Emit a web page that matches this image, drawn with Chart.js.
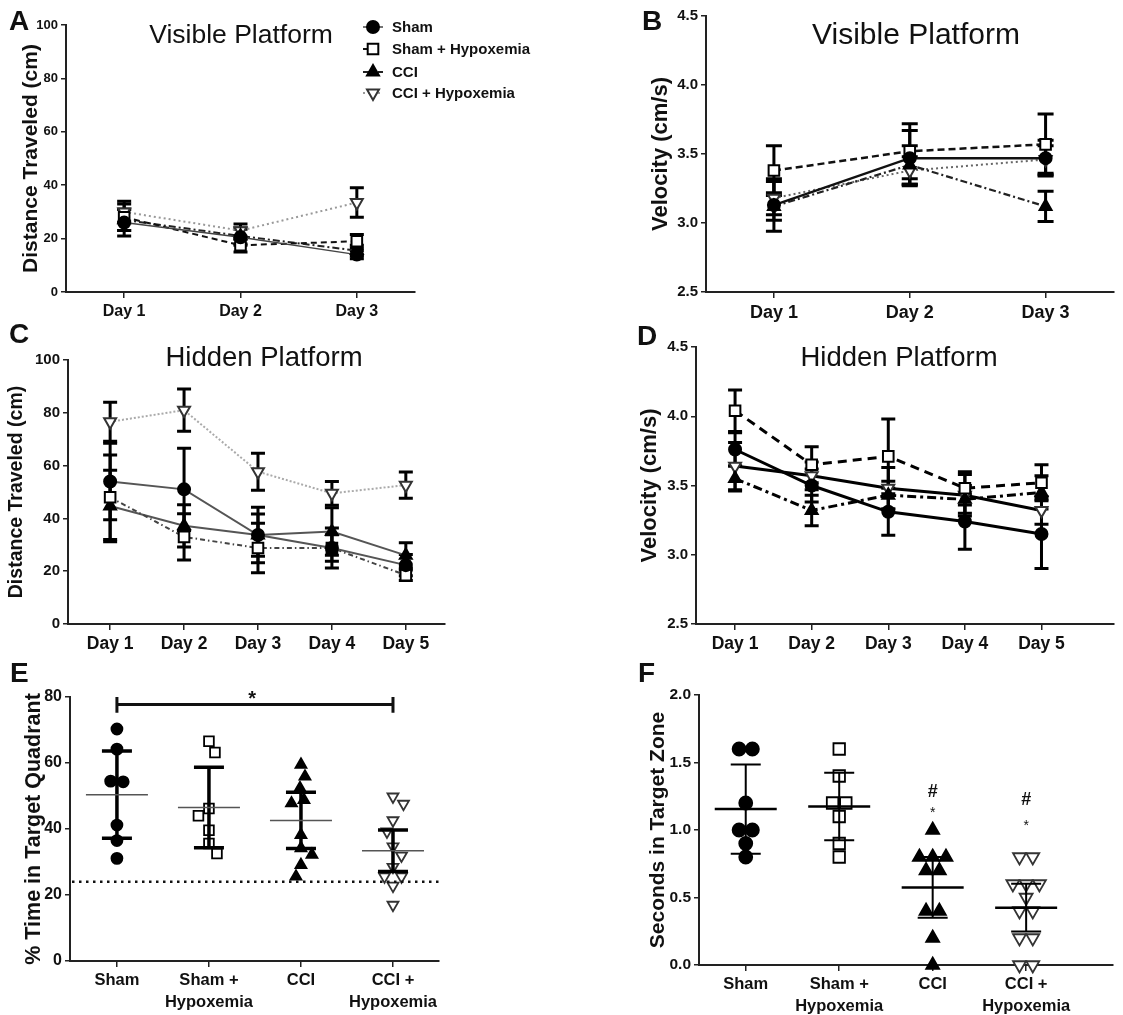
<!DOCTYPE html>
<html>
<head>
<meta charset="utf-8">
<script src="https://cdn.jsdelivr.net/npm/chart.js@4.4.0/dist/chart.umd.min.js"></script>
<style>
body { margin: 0; background: #fff; width: 1123px; height: 1015px; position: relative; overflow: hidden; font-family: "Liberation Sans", Arial, sans-serif; }
canvas { position: absolute; }
.tag { position: absolute; z-index: 2; font-weight: bold; font-size: 28px; line-height: 1; color: #111; }
</style>
</head>
<body>
<canvas id="pA"></canvas>
<canvas id="pB"></canvas>
<canvas id="pC"></canvas>
<canvas id="pD"></canvas>
<canvas id="pE"></canvas>
<canvas id="pF"></canvas>
<div class="tag" style="left:9px;top:7px">A</div>
<div class="tag" style="left:642px;top:7px">B</div>
<div class="tag" style="left:9px;top:320px">C</div>
<div class="tag" style="left:637px;top:322px">D</div>
<div class="tag" style="left:10px;top:659px">E</div>
<div class="tag" style="left:638px;top:659px">F</div>
<script>
const FONT = '"Liberation Sans", Arial, sans-serif';

const visibleDays = ['Day 1', 'Day 2', 'Day 3'];
const hiddenDays = ['Day 1', 'Day 2', 'Day 3', 'Day 4', 'Day 5'];
const groups = ['Sham', 'Sham + Hypoxemia', 'CCI', 'CCI + Hypoxemia'];
const groupTicks = [['Sham'], ['Sham +', 'Hypoxemia'], ['CCI'], ['CCI +', 'Hypoxemia']];

const distTicks = [0, 20, 40, 60, 80, 100];
const velTicks = [2.5, 3.0, 3.5, 4.0, 4.5];
const quadrantTicks = [0, 20, 40, 60, 80];
const zoneTicks = [0, 0.5, 1.0, 1.5, 2.0];

// rows follow the order of groups: Sham, Sham + Hypoxemia, CCI, CCI + Hypoxemia
// A - visible platform, distance (cm), mean and error
const visDist = [[26, 20.5, 14], [28, 17.5, 19], [27, 21, 15.5], [30, 23, 33.5]];
const visDistErr = [[5, 3, 1.5], [5, 2.5, 2.5], [4, 3, 2], [4, 2.5, 5.5]];

// B - visible platform, velocity (cm/s)
const visVel = [[3.13, 3.47, 3.47], [3.38, 3.52, 3.57], [3.12, 3.42, 3.12], [3.18, 3.38, 3.46]];
const visVelErr = [[0.19, 0.2, 0.13], [0.18, 0.2, 0.22], [0.1, 0.14, 0.11], [0.12, 0.1, 0.1]];

// C - hidden platform, distance (cm)
const hidDist = [[54, 51, 33.7, 28.8, 22.3], [48, 33, 28.8, 28.8, 18.5], [44.7, 37.2, 33.7, 35, 26], [76.6, 81, 57.7, 49.5, 52.6]];
const hidDistErr = [[14.5, 15.6, 8, 5, 4], [16, 8.8, 9.4, 7.6, 2], [13.5, 8, 10.5, 9, 4.8], [7.4, 8, 7, 4.5, 5]];

// D - hidden platform, velocity (cm/s)
const hidVel = [[3.76, 3.50, 3.31, 3.24, 3.15], [4.04, 3.65, 3.71, 3.48, 3.52], [3.55, 3.32, 3.43, 3.40, 3.45], [3.64, 3.57, 3.48, 3.43, 3.32]];
const hidVelErr = [[0.12, 0.12, 0.17, 0.2, 0.25], [0.15, 0.13, 0.27, 0.12, 0.13], [0.09, 0.11, 0.1, 0.1, 0.12], [0.17, 0.1, 0.15, 0.15, 0.1]];

// E - probe trial, % time in target quadrant (individual animals)
const quadrant = [
    [70.3, 64.2, 54.5, 54.3, 41.2, 36.5, 31.1],
    [66.6, 63.2, 46.2, 44, 39.6, 35.6, 32.6],
    [59.5, 55.9, 52.4, 48.8, 47.8, 38.2, 34.2, 32.2, 29.1, 25.6],
    [49.8, 47.6, 42.6, 39.2, 34.7, 31.9, 28.5, 25.6, 25.6, 22.8, 17]
];
const quadrantMean = [50.4, 46.5, 42.6, 33.4];
const quadrantSd = [13.2, 12.2, 8.5, 6.3];
const quadrantChance = 24;

// F - probe trial, seconds in target zone (individual animals)
const zone = [
    [1.6, 1.6, 1.2, 1.0, 1.0, 0.9, 0.8],
    [1.6, 1.4, 1.2, 1.2, 1.1, 0.9, 0.8],
    [1.0, 0.8, 0.8, 0.8, 0.7, 0.7, 0.4, 0.4, 0.2, 0.0],
    [0.8, 0.8, 0.6, 0.6, 0.6, 0.5, 0.4, 0.4, 0.2, 0.2, 0.0, 0.0]
];
const zoneMean = [1.155, 1.175, 0.575, 0.425];
const zoneSd = [0.33, 0.25, 0.225, 0.177];
const zoneHashAt = [null, null, 1.28, 1.22];
const zoneStarAt = [null, null, 1.15, 1.05];

const markers = [
    { style: 'circle', bg: '#000', border: '#000', k: 1 },
    { style: 'rect', bg: '#fff', border: '#000', k: 1.25 },
    { style: 'triangle', bg: '#000', border: '#000', k: 1.15 },
    { style: 'triangle', rot: 180, bg: '#fff', border: '#333', k: 1.15 }
];

const lookA = [
    { c: '#444', w: 1.5, d: [] }, { c: '#111', w: 2, d: [6, 4] },
    { c: '#222', w: 2, d: [7, 3, 2, 3] }, { c: '#999', w: 2, d: [2, 3] }
];
const lookB = [
    { c: '#111', w: 2.5, d: [] }, { c: '#111', w: 2.5, d: [7, 4] },
    { c: '#222', w: 2.2, d: [7, 3, 2, 3] }, { c: '#666', w: 2, d: [2, 3] }
];
const lookC = [
    { c: '#555', w: 2, d: [] }, { c: '#444', w: 2, d: [5, 3, 1.5, 3] },
    { c: '#555', w: 2, d: [] }, { c: '#aaa', w: 2, d: [2, 2] }
];
const lookD = [
    { c: '#000', w: 3, d: [] }, { c: '#000', w: 3, d: [9, 6] },
    { c: '#000', w: 3, d: [9, 4, 3, 4] }, { c: '#000', w: 3, d: [] }
];

function drawMarker(ctx, g, x, y, r) {
    const m = markers[g];
    const rr = r * m.k;
    ctx.save();
    ctx.fillStyle = m.bg;
    ctx.strokeStyle = m.border;
    ctx.lineWidth = 2;
    ctx.setLineDash([]);
    ctx.beginPath();
    if (m.style === 'circle') {
        ctx.arc(x, y, rr, 0, Math.PI * 2);
    } else if (m.style === 'rect') {
        const s = rr * Math.SQRT1_2;
        ctx.rect(x - s, y - s, 2 * s, 2 * s);
    } else {
        const d = m.rot ? -1 : 1;
        ctx.moveTo(x, y - d * rr);
        ctx.lineTo(x + rr * 0.866, y + d * rr * 0.5);
        ctx.lineTo(x - rr * 0.866, y + d * rr * 0.5);
        ctx.closePath();
    }
    ctx.fill();
    ctx.stroke();
    ctx.restore();
}

// beeswarm: push each dot sideways just enough so it does not sit on a dot already placed
function swarm(values, p) {
    const ky = (p.area[3] - p.area[1]) / (p.yTicks[p.yTicks.length - 1] - p.yTicks[0]);
    const kx = (p.area[2] - p.area[0]) / (p.xRange[1] - p.xRange[0]);
    const d2 = p.dotGap * p.dotGap;
    const order = values.map((v, i) => i).sort((a, b) => values[b] - values[a]);
    const dx = values.map(() => 0);
    const placed = [];
    let flip = 1;
    order.forEach(idx => {
        const yy = values[idx] * ky;
        const fits = x => placed.every(j => (dx[j] - x) ** 2 + (values[j] * ky - yy) ** 2 >= d2);
        let best = 0;
        if (!fits(0)) {
            let r = 0.5;
            while (!fits(flip * r) && !fits(-flip * r)) r += 0.5;
            best = fits(flip * r) ? flip * r : -flip * r;
            flip = -flip;
        }
        dx[idx] = best;
        placed.push(idx);
    });
    // centre runs of equal values around the group axis
    const done = new Set();
    order.forEach(idx => {
        if (done.has(idx)) return;
        const run = order.filter(j => Math.abs(values[j] - values[idx]) * ky < 1.5);
        run.forEach(j => done.add(j));
        if (run.length < 2) return;
        const mean = run.reduce((s, j) => s + dx[j], 0) / run.length;
        const others = order.filter(j => !run.includes(j));
        const ok = run.every(j => others.every(o =>
            (dx[o] - (dx[j] - mean)) ** 2 + ((values[o] - values[j]) * ky) ** 2 >= d2));
        if (ok) run.forEach(j => { dx[j] -= mean; });
    });
    return dx.map(v => v / kx);
}

function drawErrorBars(chart, p) {
    const { ctx, scales: { x, y } } = chart;
    ctx.save();
    ctx.strokeStyle = '#000';
    ctx.lineWidth = 3;
    chart.data.datasets.forEach(ds => {
        ds.data.forEach((pt, i) => {
            const e = ds.errors[i];
            const px = x.getPixelForValue(pt.x);
            const top = y.getPixelForValue(pt.y + e);
            const bot = y.getPixelForValue(pt.y - e);
            ctx.beginPath();
            ctx.moveTo(px, top); ctx.lineTo(px, bot);
            ctx.moveTo(px - p.cap, top); ctx.lineTo(px + p.cap, top);
            ctx.moveTo(px - p.cap, bot); ctx.lineTo(px + p.cap, bot);
            ctx.stroke();
        });
    });
    ctx.restore();
}

function drawMeanSd(chart, p) {
    const { ctx, scales: { x, y } } = chart;
    ctx.save();
    p.means.forEach((m, g) => {
        const px = x.getPixelForValue(g + 1);
        const my = y.getPixelForValue(m);
        const top = y.getPixelForValue(m + p.sds[g]);
        const bot = y.getPixelForValue(m - p.sds[g]);
        ctx.strokeStyle = '#000';
        ctx.lineWidth = p.sdWidth;
        ctx.beginPath();
        ctx.moveTo(px, top); ctx.lineTo(px, bot);
        ctx.moveTo(px - p.sdCap, top); ctx.lineTo(px + p.sdCap, top);
        ctx.moveTo(px - p.sdCap, bot); ctx.lineTo(px + p.sdCap, bot);
        ctx.stroke();
        ctx.strokeStyle = p.meanColor;
        ctx.lineWidth = p.meanWidth;
        ctx.beginPath();
        ctx.moveTo(px - p.meanHalf, my); ctx.lineTo(px + p.meanHalf, my);
        ctx.stroke();
    });
    ctx.restore();
}

function drawLegend(chart, p) {
    const ctx = chart.ctx;
    const rows = [27, 49, 72, 93];
    ctx.save();
    groups.forEach((name, g) => {
        const y = rows[g] - p.box[1];
        const x = 373 - p.box[0];
        ctx.strokeStyle = p.look[g].c;
        ctx.lineWidth = p.look[g].w;
        ctx.setLineDash(p.look[g].d);
        ctx.beginPath();
        ctx.moveTo(x - 10, y); ctx.lineTo(x + 10, y);
        ctx.stroke();
        drawMarker(ctx, g, x, y, 6);
        ctx.fillStyle = '#111';
        ctx.font = 'bold 15px ' + FONT;
        ctx.textAlign = 'left';
        ctx.textBaseline = 'middle';
        ctx.fillText(name, 392 - p.box[0], y + 1);
    });
    ctx.restore();
}

function decor(p) {
    return {
        id: 'decor',
        beforeDatasetsDraw(chart) {
            if (p.errs) drawErrorBars(chart, p);
        },
        afterDatasetsDraw(chart) {
            if (p.means) drawMeanSd(chart, p);
            if (p.extra) p.extra(chart, p);
        },
        afterDraw(chart) {
            const ctx = chart.ctx;
            if (p.title) {
                ctx.save();
                ctx.fillStyle = '#111';
                ctx.font = p.titleSize + 'px ' + FONT;
                ctx.textAlign = 'center';
                ctx.textBaseline = 'middle';
                ctx.fillText(p.title, p.titleAt[0] - p.box[0], p.titleAt[1] - p.box[1]);
                ctx.restore();
            }
            if (p.legend) drawLegend(chart, p);
        }
    };
}

function makeOptions(p) {
    const lh = p.yTitleSize * 1.2;
    const padLeft = p.yTitleX - lh / 2 - p.box[0];
    const [bx, by, bw, bh] = p.box;
    const [l, t, r, b] = p.area;
    return {
        responsive: false,
        animation: false,
        events: [],
        layout: { padding: { left: padLeft, top: t - by, right: bx + bw - r, bottom: 0 } },
        plugins: { legend: { display: false }, tooltip: { enabled: false } },
        scales: {
            x: {
                type: 'linear',
                min: p.xRange[0],
                max: p.xRange[1],
                afterBuildTicks: ax => { ax.ticks = p.cats.map((c, i) => ({ value: i + 1 })); },
                afterFit: ax => { ax.height = by + bh - b; },
                ticks: {
                    autoSkip: false,
                    maxRotation: 0,
                    padding: 3,
                    color: '#111',
                    font: { family: FONT, size: p.xFont, weight: 'bold', lineHeight: 1.3 },
                    callback: v => p.cats[Math.round(v) - 1]
                },
                grid: { display: true, drawOnChartArea: false, drawTicks: true, tickLength: 6, color: '#222', lineWidth: 1.5 },
                border: { display: true, color: '#222', width: 2 }
            },
            y: {
                type: 'linear',
                min: p.yTicks[0],
                max: p.yTicks[p.yTicks.length - 1],
                afterBuildTicks: ax => { ax.ticks = p.yTicks.map(v => ({ value: v })); },
                afterFit: ax => { ax.width = l - bx - padLeft; },
                ticks: {
                    padding: 3,
                    color: '#111',
                    font: { family: FONT, size: p.yFont, weight: 'bold' },
                    callback: v => v.toFixed(p.dec)
                },
                grid: { display: true, drawOnChartArea: false, drawTicks: true, tickLength: 5, color: '#222', lineWidth: 1.5 },
                border: { display: true, color: '#222', width: 2 },
                title: {
                    display: true,
                    text: p.yTitle,
                    color: '#111',
                    padding: 0,
                    font: { family: FONT, size: p.yTitleSize, weight: 'bold', lineHeight: 1.2 }
                }
            }
        }
    };
}

function setupCanvas(p) {
    const canvas = document.getElementById(p.el);
    canvas.width = p.box[2];
    canvas.height = p.box[3];
    canvas.style.left = p.box[0] + 'px';
    canvas.style.top = p.box[1] + 'px';
    return canvas;
}

function buildLinePanel(p) {
    const canvas = setupCanvas(p);
    const datasets = p.values.map((vals, g) => ({
        label: groups[g],
        data: vals.map((v, i) => ({ x: i + 1, y: v })),
        errors: p.errs[g],
        borderColor: p.look[g].c,
        borderWidth: p.look[g].w,
        borderDash: p.look[g].d,
        pointStyle: markers[g].style,
        pointRotation: markers[g].rot || 0,
        pointBackgroundColor: markers[g].bg,
        pointBorderColor: markers[g].border,
        pointBorderWidth: 2,
        pointRadius: p.r * markers[g].k,
        tension: 0,
        clip: false
    }));
    new Chart(canvas, {
        type: 'line',
        data: { datasets: datasets },
        options: makeOptions(p),
        plugins: [decor(p)]
    });
}

function buildDotPanel(p) {
    const canvas = setupCanvas(p);
    const datasets = p.points.map((vals, g) => {
        const off = swarm(vals, p);
        return {
            label: groups[g],
            data: vals.map((v, i) => ({ x: g + 1 + off[i], y: v })),
            pointStyle: markers[g].style,
            pointRotation: markers[g].rot || 0,
            backgroundColor: markers[g].bg,
            borderColor: markers[g].border,
            pointBorderWidth: 1.8,
            pointRadius: p.r * markers[g].k,
            clip: false
        };
    });
    new Chart(canvas, {
        type: 'scatter',
        data: { datasets: datasets },
        options: makeOptions(p),
        plugins: [decor(p)]
    });
}

buildLinePanel({
    el: 'pA', box: [0, 0, 600, 330], area: [66, 25, 415, 292],
    cats: visibleDays, xRange: [0.5, 3.5], yTicks: distTicks, dec: 0,
    yTitle: 'Distance Traveled (cm)', yTitleX: 31, yTitleSize: 21, yFont: 13, xFont: 16,
    values: visDist, errs: visDistErr, look: lookA, r: 6, cap: 7,
    title: 'Visible Platform', titleAt: [241, 36], titleSize: 26.5, legend: true
});

buildLinePanel({
    el: 'pB', box: [600, 0, 523, 330], area: [706, 16, 1120, 292],
    cats: visibleDays, xRange: [0.5, 3.5], yTicks: velTicks, dec: 1,
    yTitle: 'Velocity (cm/s)', yTitleX: 661, yTitleSize: 22, yFont: 15, xFont: 18,
    values: visVel, errs: visVelErr, look: lookB, r: 6, cap: 8,
    title: 'Visible Platform', titleAt: [916, 36], titleSize: 30
});

buildLinePanel({
    el: 'pC', box: [0, 330, 560, 335], area: [68, 360, 445, 624],
    cats: hiddenDays, xRange: [0.43, 5.53], yTicks: distTicks, dec: 0,
    yTitle: 'Distance Traveled (cm)', yTitleX: 17, yTitleSize: 19.5, yFont: 15, xFont: 17.5,
    values: hidDist, errs: hidDistErr, look: lookC, r: 6, cap: 7,
    title: 'Hidden Platform', titleAt: [264, 358], titleSize: 27.5
});

buildLinePanel({
    el: 'pD', box: [560, 330, 563, 335], area: [696, 347, 1120, 624],
    cats: hiddenDays, xRange: [0.49, 5.94], yTicks: velTicks, dec: 1,
    yTitle: 'Velocity (cm/s)', yTitleX: 650, yTitleSize: 22, yFont: 15, xFont: 17.5,
    values: hidVel, errs: hidVelErr, look: lookD, r: 6, cap: 7,
    title: 'Hidden Platform', titleAt: [899, 358], titleSize: 27.5
});

buildDotPanel({
    el: 'pE', box: [0, 665, 560, 350], area: [70, 697, 439, 961],
    cats: groupTicks, xRange: [0.49, 4.5], yTicks: quadrantTicks, dec: 0,
    yTitle: '% Time in Target Quadrant', yTitleX: 34, yTitleSize: 21.5, yFont: 16, xFont: 16.5,
    points: quadrant, means: quadrantMean, sds: quadrantSd, r: 5.5, dotGap: 12.5,
    sdWidth: 3.5, sdCap: 15, meanHalf: 31, meanWidth: 1.5, meanColor: '#555',
    extra(chart) {
        const { ctx, chartArea, scales: { x, y } } = chart;
        ctx.save();
        // chance level
        ctx.strokeStyle = '#111';
        ctx.lineWidth = 2.5;
        ctx.setLineDash([2.5, 4.5]);
        ctx.beginPath();
        const cy = y.getPixelForValue(quadrantChance);
        ctx.moveTo(chartArea.left + 2, cy); ctx.lineTo(chartArea.right, cy);
        ctx.stroke();
        // Sham vs CCI + Hypoxemia bracket
        ctx.setLineDash([]);
        ctx.lineWidth = 3;
        const x1 = x.getPixelForValue(1), x2 = x.getPixelForValue(4);
        const by = y.getPixelForValue(77.7);
        ctx.beginPath();
        ctx.moveTo(x1, by); ctx.lineTo(x2, by);
        ctx.moveTo(x1, y.getPixelForValue(80)); ctx.lineTo(x1, y.getPixelForValue(75.2));
        ctx.moveTo(x2, y.getPixelForValue(80)); ctx.lineTo(x2, y.getPixelForValue(75.2));
        ctx.stroke();
        ctx.fillStyle = '#111';
        ctx.font = 'bold 20px ' + FONT;
        ctx.textAlign = 'center';
        ctx.textBaseline = 'middle';
        ctx.fillText('*', x.getPixelForValue(2.47), y.getPixelForValue(80.6) + 4);
        ctx.restore();
    }
});

buildDotPanel({
    el: 'pF', box: [560, 665, 563, 350], area: [699, 695, 1120, 965],
    cats: groupTicks, xRange: [0.5, 4.93], yTicks: zoneTicks, dec: 1,
    yTitle: 'Seconds in Target Zone', yTitleX: 658, yTitleSize: 21, yFont: 15.5, xFont: 16.5,
    points: zone, means: zoneMean, sds: zoneSd, r: 6.5, dotGap: 13.5,
    sdWidth: 2, sdCap: 15, meanHalf: 31, meanWidth: 2.5, meanColor: '#000',
    extra(chart) {
        const { ctx, scales: { x, y } } = chart;
        ctx.save();
        ctx.fillStyle = '#111';
        ctx.textAlign = 'center';
        ctx.textBaseline = 'middle';
        zoneHashAt.forEach((v, g) => {
            if (v === null) return;
            const px = x.getPixelForValue(g + 1);
            ctx.font = 'bold 18px ' + FONT;
            ctx.fillText('#', px, y.getPixelForValue(v));
            ctx.font = '14px ' + FONT;
            ctx.fillText('*', px, y.getPixelForValue(zoneStarAt[g]) + 3);
        });
        ctx.restore();
    }
});
</script>
</body>
</html>
